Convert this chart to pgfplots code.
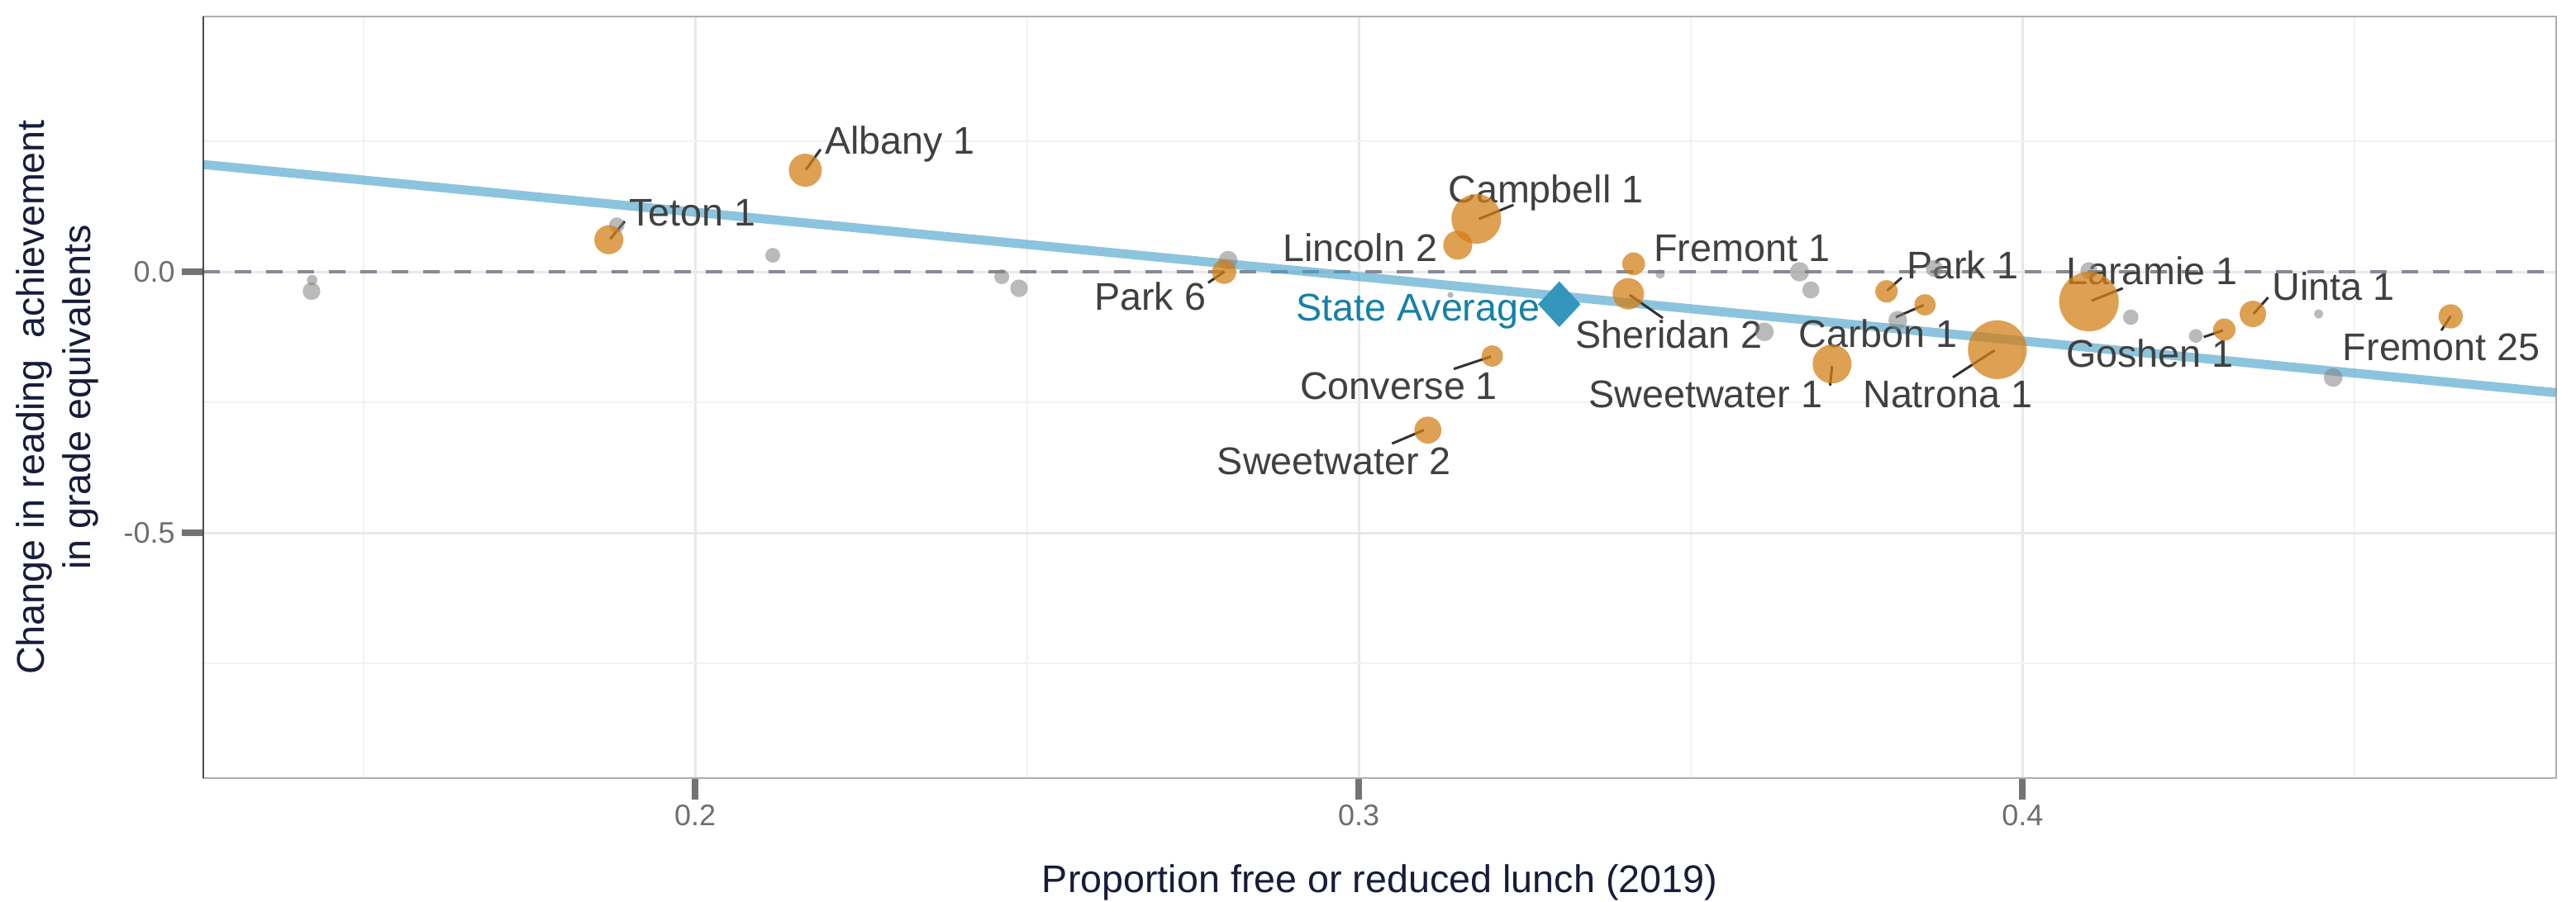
\documentclass[border=0pt]{standalone}
\usepackage{pgfplots}
\pgfplotsset{compat=1.18}
\usepackage{pgfplotstable}
\usepackage{fontspec}
\setmainfont{Liberation Sans}

\definecolor{orangeC}{RGB}{211,128,24}
\definecolor{greyC}{RGB}{130,130,130}
\definecolor{diamondC}{RGB}{52,150,188}
\definecolor{avgtextC}{RGB}{22,128,168}
\definecolor{regC}{RGB}{70,160,200}
\definecolor{dashC}{RGB}{134,137,152}
\definecolor{labelC}{RGB}{64,64,64}
\definecolor{segC}{RGB}{50,50,50}
\definecolor{navyC}{RGB}{22,28,58}
\definecolor{tickC}{RGB}{115,115,115}
\definecolor{ticklabC}{RGB}{110,110,110}
\definecolor{gridmajor}{RGB}{232,232,232}
\definecolor{gridminor}{RGB}{242,242,242}
\definecolor{borderC}{RGB}{175,175,175}

% labelled districts: x = proportion FRL, y = change, r = bubble radius (pt)
\pgfplotstableread{
x y r
0.2166 0.1946 3.00
0.1870 0.0614 2.63
0.3177 0.1013 4.50
0.3149 0.0511 2.63
0.2797 0.0000 2.20
0.3414 0.0153 2.07
0.3406 -0.0422 2.85
0.3201 -0.1614 1.95
0.3104 -0.3033 2.45
0.3713 -0.1767 3.53
0.3853 -0.0633 1.95
0.3795 -0.0375 2.03
0.3962 -0.1492 5.33
0.4100 -0.0570 5.40
0.4304 -0.1108 2.03
0.4347 -0.0807 2.40
0.4645 -0.0854 2.20
}\orangedata

% other districts
\pgfplotstableread{
x y r
0.1423 -0.0158 0.95
0.1422 -0.0372 1.60
0.1882 0.0894 1.40
0.2117 0.0316 1.35
0.2462 -0.0095 1.35
0.2488 -0.0316 1.60
0.2803 0.0222 1.70
0.3138 -0.0443 0.55
0.3454 -0.0043 0.85
0.3664 0.0000 1.75
0.3681 -0.0348 1.55
0.3611 -0.1150 1.70
0.3812 -0.0929 1.70
0.3867 0.0063 1.55
0.4100 0.0020 1.55
0.4163 -0.0870 1.40
0.4261 -0.1229 1.25
0.4446 -0.0807 0.85
0.4468 -0.2025 1.70
}\greydata

\begin{document}
\begin{tikzpicture}
\useasboundingbox (-36.9pt,-22.35pt) rectangle (430.65pt,141.3pt);
\begin{axis}[
  at={(0pt,0pt)}, anchor=south west,
  scale only axis, width=427.05pt, height=138.3pt,
  xmin=0.1259, xmax=0.4804, ymin=-0.970, ymax=0.489,
  xtick={0.2,0.3,0.4}, xticklabels={0.2,0.3,0.4},
  ytick={-0.5,0}, yticklabels={-0.5,0.0},
  minor xtick={0.15,0.25,0.35,0.45}, minor ytick={-0.75,-0.25,0.25},
  grid=both,
  major grid style={draw=gridmajor, line width=0.45pt},
  minor grid style={draw=gridminor, line width=0.3pt},
  tick align=outside, major tick length=3.9pt, minor tick length=0pt,
  xtick pos=bottom, ytick pos=left,
  major tick style={draw=tickC, line width=1.2pt},
  axis line style={draw=borderC, line width=0.4pt},
  /pgf/number format/assume math mode=true,
  tick label style={font=\fontsize{5.4}{6}\selectfont, text=ticklabC},
  xticklabel style={inner sep=0pt, yshift=-0.75pt},
  yticklabel style={inner sep=0pt, xshift=-1.05pt},
  xlabel={Proportion free or reduced lunch (2019)},
  xlabel style={font=\fontsize{7}{8.4}\selectfont, text=navyC, at={(axis description cs:0.5,-0.1497)}, anchor=base, inner sep=0pt},
  ylabel={Change in reading\ \ achievement\\in grade equivalents},
  ylabel style={font=\fontsize{7}{8.4}\selectfont, text=navyC, align=center, at={(axis description cs:-0.04397,0.5)}, anchor=south, inner sep=0pt},
  clip=false,
]
% grey (other) districts
\addplot[scatter, only marks, mark=*,
  scatter/use mapped color={draw=greyC, fill=greyC, draw opacity=0, fill opacity=0.55},
  visualization depends on={\thisrow{r} \as \rad},
  scatter/@pre marker code/.append style={/tikz/mark size=\rad}]
  table[x=x,y=y]{\greydata};
% orange (labelled) districts
\addplot[scatter, only marks, mark=*,
  scatter/use mapped color={draw=orangeC, fill=orangeC, draw opacity=0, fill opacity=0.75},
  visualization depends on={\thisrow{r} \as \rad},
  scatter/@pre marker code/.append style={/tikz/mark size=\rad}]
  table[x=x,y=y]{\orangedata};
% state average
\addplot[only marks, mark=diamond*, mark size=4.15pt,
  mark options={draw=diamondC, fill=diamondC, draw opacity=0, xscale=1.24}]
  coordinates {(0.3302,-0.0622)};
% zero line
\addplot[draw=dashC, line width=0.65pt, dash pattern=on 3pt off 2.7pt]
  coordinates {(0.1259,0) (0.4804,0)};
% regression line
\addplot[draw=regC, line width=1.65pt, opacity=0.62]
  coordinates {(0.1259,0.2055) (0.4804,-0.2316)};
% left border
\draw[draw=black!70, line width=0.35pt] (rel axis cs:0,0) -- (rel axis cs:0,1);
% leader segments
\begin{scope}[draw=segC, line width=0.45pt]
\draw (axis cs:0.2167,0.1956) -- (axis cs:0.2189,0.2345);
\draw (axis cs:0.1872,0.0628) -- (axis cs:0.1894,0.0967);
\draw (axis cs:0.3181,0.1013) -- (axis cs:0.3233,0.1282);
\draw (axis cs:0.2797,0.0) -- (axis cs:0.2773,-0.0210);
\draw (axis cs:0.3408,-0.0443) -- (axis cs:0.3458,-0.0886);
\draw (axis cs:0.3199,-0.1625) -- (axis cs:0.3143,-0.1862);
\draw (axis cs:0.3098,-0.3033) -- (axis cs:0.3050,-0.3291);
\draw (axis cs:0.3713,-0.1804) -- (axis cs:0.3710,-0.2179);
\draw (axis cs:0.3851,-0.0638) -- (axis cs:0.3809,-0.0870);
\draw (axis cs:0.3796,-0.0359) -- (axis cs:0.3818,-0.0111);
\draw (axis cs:0.3958,-0.1503) -- (axis cs:0.3895,-0.2021);
\draw (axis cs:0.4104,-0.0554) -- (axis cs:0.4151,-0.0316);
\draw (axis cs:0.4302,-0.1123) -- (axis cs:0.4273,-0.1250);
\draw (axis cs:0.4348,-0.0807) -- (axis cs:0.4370,-0.0491);
\draw (axis cs:0.4645,-0.0850) -- (axis cs:0.4631,-0.1123);
\end{scope}
% labels
\begin{scope}[every node/.style={anchor=base west, inner sep=0pt, font=\fontsize{7}{8.4}\selectfont, text=labelC}]
\node at (axis cs:0.2194,0.2252) {Albany 1};
\node at (axis cs:0.1899,0.0886) {Teton 1};
\node at (axis cs:0.3133,0.1329) {Campbell 1};
\node at (axis cs:0.2884,0.0195) {Lincoln 2};
\node at (axis cs:0.2600,-0.0728) {Park 6};
\node[text=avgtextC] at (axis cs:0.2904,-0.0938) {State Average};
\node at (axis cs:0.3443,0.0206) {Fremont 1};
\node at (axis cs:0.3325,-0.1456) {Sheridan 2};
\node at (axis cs:0.2910,-0.2442) {Converse 1};
\node at (axis cs:0.2785,-0.3877) {Sweetwater 2};
\node at (axis cs:0.3824,-0.0131) {Park 1};
\node at (axis cs:0.4064,-0.0237) {Laramie 1};
\node at (axis cs:0.4375,-0.0543) {Uinta 1};
\node at (axis cs:0.3661,-0.1440) {Carbon 1};
\node at (axis cs:0.4064,-0.1835) {Goshen 1};
\node at (axis cs:0.4481,-0.1693) {Fremont 25};
\node at (axis cs:0.3758,-0.2600) {Natrona 1};
\node[anchor=base east] at (axis cs:0.3700,-0.2600) {Sweetwater 1};
\end{scope}
\end{axis}
\end{tikzpicture}
\end{document}
